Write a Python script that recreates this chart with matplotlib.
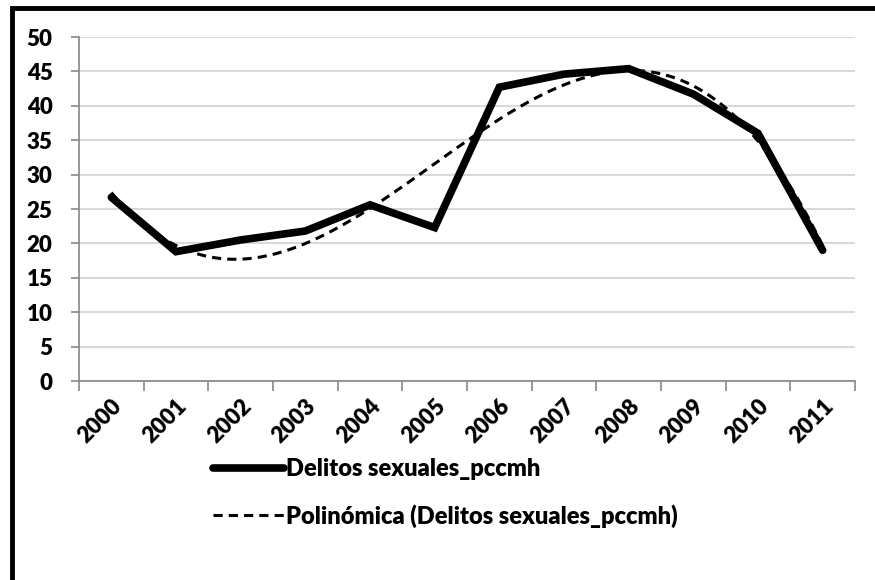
import numpy as np
import matplotlib
matplotlib.use('Agg')
import matplotlib.pyplot as plt
from matplotlib.lines import Line2D
from matplotlib.patches import Rectangle

years = ['2000', '2001', '2002', '2003', '2004', '2005',
         '2006', '2007', '2008', '2009', '2010', '2011']
delitos = [26.7, 18.8, 20.5, 21.8, 25.6, 22.3, 42.7, 44.6, 45.4, 41.7, 36.0, 19.0]
y_ticks = [0, 5, 10, 15, 20, 25, 30, 35, 40, 45, 50]
serie_name = 'Delitos sexuales_pccmh'
trend_name = 'Polinómica (Delitos sexuales_pccmh)'
trend_order = 3

plt.rcParams['font.family'] = ['Lato', 'DejaVu Sans']
wt = 'heavy'

W, H = 875, 580
fig = plt.figure(figsize=(W / 100, H / 100), dpi=100)
ax = fig.add_axes([79 / W, 1 - 381 / H, (855 - 79) / W, (381 - 37) / H])

x = np.arange(len(years))
# polynomial trend line (as excel does it)
coef = np.polyfit(x, delitos, trend_order)
xs = np.linspace(0, len(years) - 1, 300)
ax.plot(x, delitos, color='black', lw=5.5, solid_joinstyle='miter', solid_capstyle='round', zorder=3)
ax.plot(xs, np.polyval(coef, xs), color='black', lw=2.2, ls=(0, (3, 2)), zorder=4)

ax.set_xlim(-0.5, len(years) - 0.5)
ax.set_ylim(0, 50)
ax.set_yticks(y_ticks)
ax.set_yticklabels([str(v) for v in y_ticks], fontsize=16, fontweight=wt)
ax.yaxis.grid(True, color='#d9d9d9', lw=1.5)
ax.set_axisbelow(True)

ax.set_xticks(np.arange(len(years) + 1) - 0.5)
ax.set_xticklabels([])
ax.set_xticks(x, minor=True)
ax.set_xticklabels(years, minor=True, rotation=45, ha='right', va='top',
                   rotation_mode='anchor', fontsize=16, fontweight=wt)
ax.tick_params(axis='x', which='minor', length=0, pad=10)
ax.tick_params(axis='x', which='major', length=7, color='#868686', width=1.2)
ax.tick_params(axis='y', length=6, color='#868686', width=1.2, pad=13)
for s in ['top', 'right']:
    ax.spines[s].set_visible(False)
for s in ['left', 'bottom']:
    ax.spines[s].set_color('#868686')
    ax.spines[s].set_linewidth(1.2)

handles = [Line2D([], [], color='black', lw=5.5, solid_capstyle='round'),
           Line2D([], [], color='black', lw=2.2, ls=(0, (3, 2)))]
fig.legend(handles, [serie_name, trend_name], loc='upper left',
           bbox_to_anchor=(192 / W, 1 - 437 / H), frameon=False,
           prop={'size': 17, 'weight': wt}, handlelength=3.0,
           handletextpad=0.1, labelspacing=1.0)

fig.add_artist(Rectangle((12 / W, -0.1), 1.2, 1 - 8 / H + 0.1, transform=fig.transFigure,
                         fill=False, edgecolor='black', lw=3.5))

fig.savefig('out.png', dpi=100)
